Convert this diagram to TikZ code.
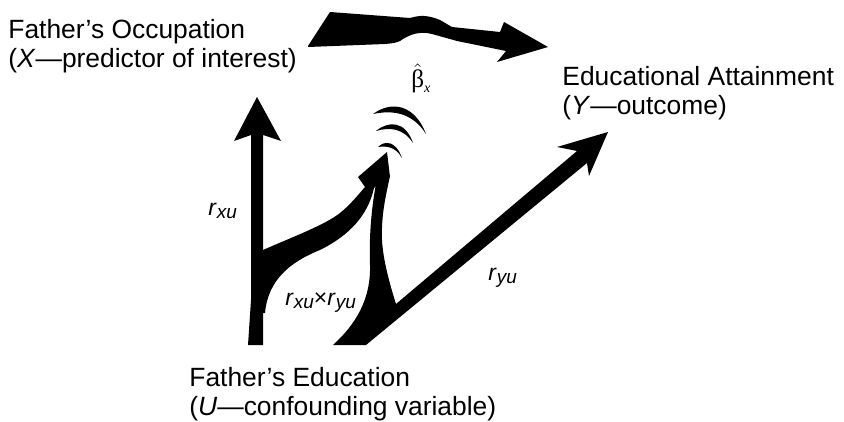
\documentclass[tikz,border=0pt]{standalone}
\usepackage{fontspec}
\setmainfont{Liberation Sans}
\newfontfamily\serifgr{Liberation Serif}
\newcommand{\rsym}[1]{\textit{r}\raisebox{-1.5pt}{\fontsize{9.5}{9.5}\selectfont\textit{#1}}}
\begin{document}
\begin{tikzpicture}[x=0.5pt,y=-0.5pt,
  lbl/.style={anchor=north west, inner sep=0, align=left, font=\fontsize{13.2}{14.5}\selectfont},
  rlab/.style={anchor=base west, inner sep=0, font=\fontsize{11.5}{12}\selectfont},
  ink/.style={fill=black}]
\useasboundingbox (0,0) rectangle (844,422);

% top arrow (X -> Y)
\fill[ink] (308,46) -- (330,12) .. controls (350,13) .. (370,15) -- (410,18)
  .. controls (420,15) and (428,15) .. (440,20) .. controls (446,24) .. (452,27)
  -- (500,32) -- (504,22) -- (548,47) -- (497,62) -- (506,51) -- (457,41)
  .. controls (445,37) .. (432,34) .. controls (420,31) and (410,34) .. (400,41)
  .. controls (395,43) .. (385,44) -- (308,47) -- cycle;

% vertical arrow (U -> X)
\fill[ink] (248,345) -- (251,300) -- (251,135) -- (234,141) -- (257,97)
  -- (281,141) -- (263,135) -- (263,345) -- cycle;

% curved branch from vertical arrow to beta head
\fill[ink] (257,250) -- (263,250) .. controls (290,238) and (325,225) .. (340,213)
  .. controls (350,205) and (358,195) .. (365,187) -- (358,177) -- (387,152)
  -- (390,177) -- (380,182) -- (374,188)
  .. controls (368,215) and (350,235) .. (320,250)
  .. controls (290,262) and (268,280) .. (265,313) -- (257,313) -- cycle;

% middle band and diagonal arrow (U -> Y)
\fill[ink] (333,345) -- (366,345) -- (587,163) -- (589,176) -- (608,132)
  -- (557,147) -- (577,151) -- (396,304)
  .. controls (390,285) and (383,260) .. (382,240)
  .. controls (381,215) and (386,195) .. (390,176) -- (376,184)
  .. controls (371,210) and (369,240) .. (370,265)
  .. controls (371,300) and (355,325) .. (333,345) -- cycle;

% beta arcs
\fill[ink] (373,114) .. controls (392,100) and (415,105) .. (426,134)
  .. controls (412,112) and (392,110) .. (373,114) -- cycle;
\fill[ink] (376,131) .. controls (388,121) and (405,120) .. (413,143)
  .. controls (403,128) and (390,127) .. (376,131) -- cycle;
\fill[ink] (378,147) .. controls (385,140) and (396,141) .. (402,158)
  .. controls (395,146) and (386,146) .. (378,147) -- cycle;

% labels
\node[lbl] (occ) at (8,19) {Father’s Occupation\\(\textit{X}—predictor of interest)};
\node[lbl] (att) at (562,66) {Educational Attainment\\(\textit{Y}—outcome)};
\node[lbl] (edu) at (189,367) {Father’s Education\\(\textit{U}—confounding variable)};

\node[rlab] (rxu) at (208,215) {\rsym{xu}};
\node[rlab] (rxuyu) at (285,305) {\rsym{xu}×\rsym{yu}};
\node[rlab] (ryu) at (488,280) {\rsym{yu}};

\node[anchor=base west, inner sep=0, font=\serifgr\fontsize{12.6}{13}\selectfont] (beta) at (411,88)
  {$\hat{\hbox{\serifgr β}}$\raisebox{-2.5pt}{\fontsize{7}{7}\selectfont\itshape x}};
\end{tikzpicture}
\end{document}
